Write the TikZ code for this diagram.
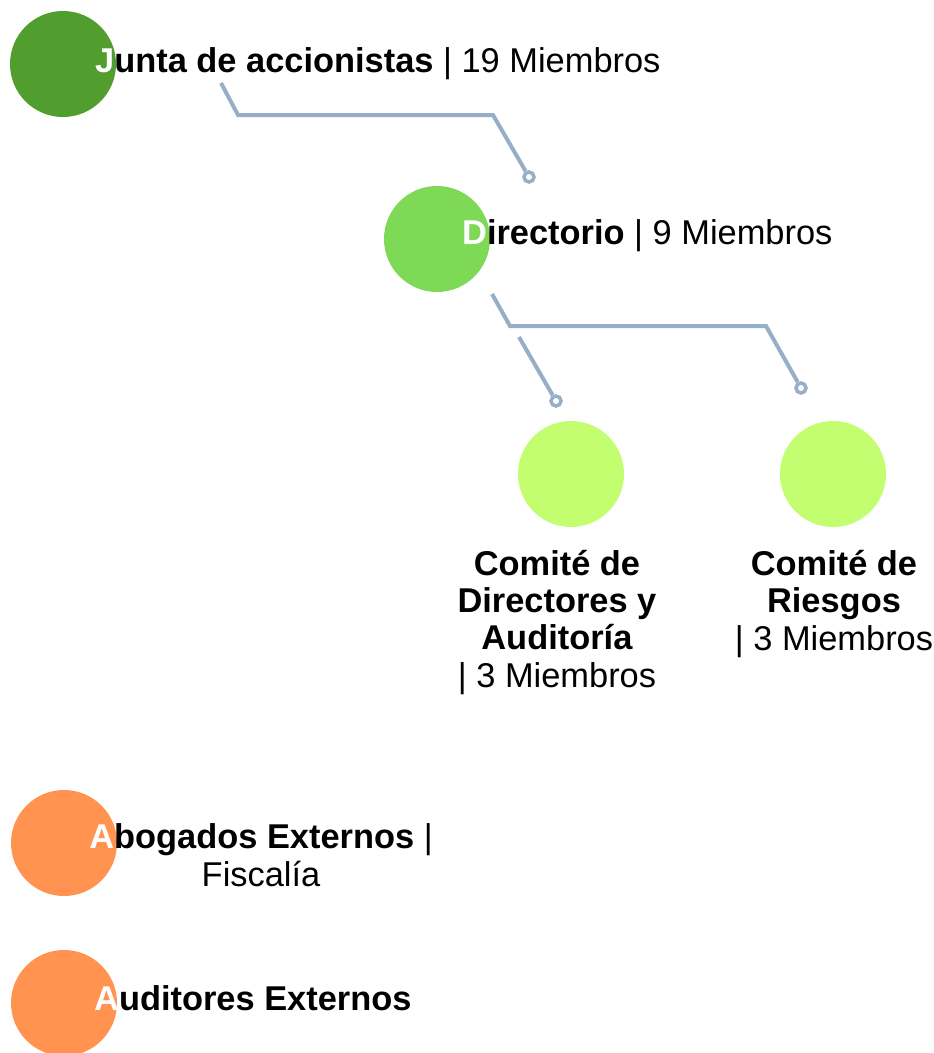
\documentclass[tikz,border=0pt]{standalone}
\usepackage{fontspec}
\setmainfont{Liberation Sans}
\definecolor{jgreen}{HTML}{519E2F}
\definecolor{dgreen}{HTML}{7ED957}
\definecolor{lgreen}{HTML}{C3FD70}
\definecolor{orangec}{HTML}{FF934F}
\definecolor{linec}{HTML}{97AFC6}
\tikzset{
  dot/.style={circle, minimum size=106pt, inner sep=0pt, draw=none},
  lbl/.style={inner sep=0pt, font=\fontsize{34.4}{37.3}\selectfont, text=black},
  conn/.style={draw=linec, line width=4pt},
  endc/.style={circle, draw=linec, fill=white, line width=3.5pt, minimum size=10pt, inner sep=0pt},
}
\newcommand{\wl}[1]{\textcolor{white}{#1}}
\begin{document}
\begin{tikzpicture}[x=1pt, y=-1pt]
\useasboundingbox (0,0) rectangle (934,1053);
% circles
\node[dot, fill=jgreen] (junta) at (63,64) {};
\node[dot, fill=dgreen] (dir) at (437,239) {};
\node[dot, fill=lgreen] (cda) at (571,474) {};
\node[dot, fill=lgreen] (cr) at (833,474) {};
\node[dot, fill=orangec] (abo) at (64,843) {};
\node[dot, fill=orangec] (aud) at (64,1003) {};
% labels
\node[lbl, anchor=base west] (tjunta) at (95,72) {\textbf{\wl{J}unta de accionistas} | 19 Miembros};
\node[lbl, anchor=base west] (tdir) at (462,244) {\textbf{\wl{D}irectorio} | 9 Miembros};
\node[lbl, anchor=base, align=center] (tcda) at (557,687) {\textbf{Comité de}\\\textbf{Directores y}\\\textbf{Auditoría}\\| 3 Miembros};
\node[lbl, anchor=base, align=center] (tcr) at (834,650) {\textbf{Comité de}\\\textbf{Riesgos}\\| 3 Miembros};
\node[lbl, anchor=base, align=center] (tabo) at (261,886) {\textbf{\wl{A}bogados Externos} |\\Fiscalía};
\node[lbl, anchor=base west] (taud) at (94,1010) {\textbf{\wl{A}uditores Externos}};
% connector points
\coordinate (s1) at (221,83);
\coordinate (b1) at (238,115);
\coordinate (b2) at (493,115);
\node[endc] (e1) at (529,177) {};
\coordinate (s2) at (492,294);
\coordinate (b3) at (510,326);
\coordinate (b4) at (766,326);
\node[endc] (e2) at (801,388) {};
\coordinate (s3) at (519,337);
\node[endc] (e3) at (556,401) {};
\draw[conn] (s1) -- (b1) -- (b2) -- (e1);
\draw[conn] (s2) -- (b3) -- (b4) -- (e2);
\draw[conn] (s3) -- (e3);
\end{tikzpicture}
\end{document}
